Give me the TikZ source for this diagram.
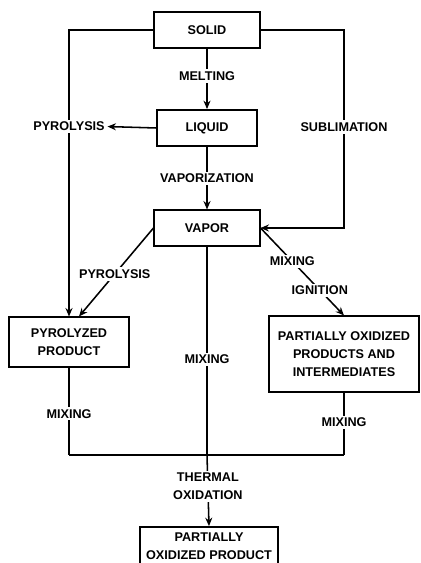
\documentclass[tikz,border=0pt]{standalone}
\usepackage{fontspec}
\setmainfont{Liberation Sans}
\usetikzlibrary{arrows.meta}
\begin{document}
\begin{tikzpicture}[x=0.025cm, y=-0.025cm,
		every node/.style={font=\fontsize{9}{12.8}\selectfont\bfseries},
		stage/.style={draw, line width=1.3pt, align=center, inner sep=2pt},
		lbl/.style={fill=white, inner sep=1.5pt, align=center},
		flow/.style={line width=1.1pt},
		arr/.style={flow, -{Stealth[length=6pt,width=5pt]}}]
			\useasboundingbox (0,0) rectangle (420,563);
			
			% States
			\node[stage, minimum width=2.63cm, minimum height=0.9cm] (solid) at (207,30) {SOLID};
			\node[stage, minimum width=2.48cm, minimum height=0.9cm] (liquid) at (207,128) {LIQUID};
			\node[stage, minimum width=2.63cm, minimum height=0.88cm] (vapor) at (207,228) {VAPOR};
			\node[stage, minimum width=3.0cm, minimum height=1.23cm] (pyro) at (69,342) {PYROLYZED\\PRODUCT};
			\node[stage, minimum width=3.75cm, minimum height=1.88cm] (partial) at (344,354) {PARTIALLY OXIDIZED\\PRODUCTS AND\\INTERMEDIATES};
			\node[stage, minimum width=3.45cm, minimum height=0.95cm] (final) at (209,546) {PARTIALLY\\OXIDIZED PRODUCT};
			
			% Corners
			\coordinate (tl) at (pyro.north |- solid.west);
			\coordinate (tr) at (partial.north |- solid.west);
			\coordinate (jl) at (69,455);
			\coordinate (jr) at (partial.south |- jl);
			\coordinate (jc) at (vapor.south |- jl);
			
			% Main chain
			\draw[arr] (solid) -- node[lbl, pos=0.45] {MELTING} (liquid);
			\draw[arr] (liquid) -- node[lbl] {VAPORIZATION} (vapor);
			
			% Left side
			\draw[arr] (solid.west) -- (tl) -- node[lbl, pos=0.337] (pyrl) {PYROLYSIS} (pyro.north);
			\draw[arr] (liquid.west) -- (pyrl.east);
			\draw[arr] (vapor.west) -- node[lbl, pos=0.52] {PYROLYSIS} ([xshift=0.25cm]pyro.north);
			
			% Right side
			\draw[arr] (solid.east) -- (tr) -- node[lbl, pos=0.49] {SUBLIMATION} (tr |- vapor.east) -- (vapor.east);
			\draw[arr] (vapor.east) -- node[lbl, pos=0.38] {MIXING} node[lbl, pos=0.71] {IGNITION} (partial.north);
			
			% Mixing
			\draw[flow] (vapor.south) -- node[lbl, pos=0.54] {MIXING} (jc);
			\draw[flow] (pyro.south) -- node[lbl, pos=0.53] {MIXING} (jl);
			\draw[flow] (partial.south) -- node[lbl, pos=0.48] {MIXING} (jr);
			\draw[flow] (jl) -- (jr);
			\draw[arr] (jc) -- node[lbl, pos=0.44] {THERMAL\\OXIDATION} (final.north);
		\end{tikzpicture}
\end{document}
